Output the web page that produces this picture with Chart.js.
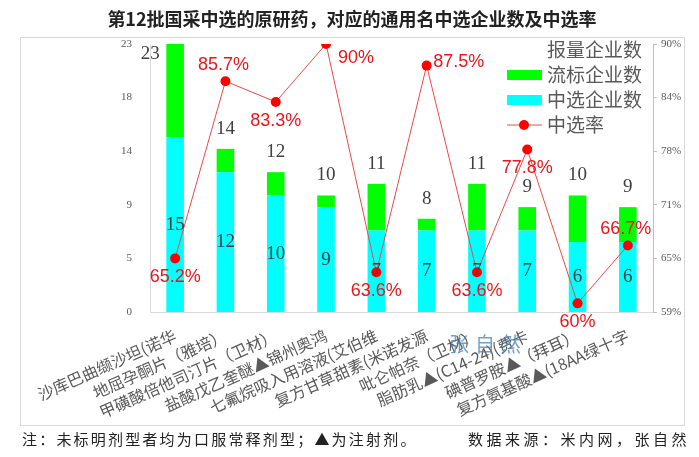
<!DOCTYPE html>
<html>
<head>
<meta charset="utf-8">
<script src="https://cdn.jsdelivr.net/npm/chart.js@4.4.0/dist/chart.umd.min.js"></script>
<style>
  body { margin: 0; background: #fff; }
  #wrap { position: relative; width: 699px; height: 457px; overflow: hidden; }
  #title { position: absolute; left: 0; top: 5px; width: 704px; text-align: center;
    font: bold 18px "Noto Sans CJK SC", sans-serif; color: #222; }
  .note { position: absolute; top: 428px; font: 15px "Noto Sans CJK SC", sans-serif; color: #222; letter-spacing: 2.2px; }
  #mark { position: absolute; left: 449px; top: 329px; font: 20px "Noto Sans CJK SC", sans-serif;
    color: rgba(70, 130, 180, 0.75); letter-spacing: 6px; }
</style>
</head>
<body>
<div id="wrap">
  <canvas id="myChart" width="699" height="457"></canvas>
  <div id="title">第12批国采中选的原研药，对应的通用名中选企业数及中选率</div>
  <div class="note" style="left:22px">注：未标明剂型者均为口服常释剂型；▲为注射剂。</div>
  <div class="note" style="left:468px; letter-spacing:3.5px">数据来源：米内网，张自然</div>
  <div id="mark">张自然</div>
</div>
<script>
const drugs = ['沙库巴曲缬沙坦(诺华', '地屈孕酮片（雅培）', '甲磺酸倍他司汀片（卫材）', '盐酸戊乙奎醚▲锦州奥鸿',
  '七氟烷吸入用溶液(艾伯维', '复方甘草甜素(米诺发源', '吡仑帕奈（卫材）', '脂肪乳▲(C14-24)(费卡',
  '碘普罗胺▲（拜耳）', '复方氨基酸▲(18AA绿十字'];
const totals = [23, 14, 12, 10, 11, 8, 11, 9, 10, 9];      // 报量企业数
const selected = [15, 12, 10, 9, 7, 7, 7, 7, 6, 6];        // 中选企业数
const failed = [8, 2, 2, 1, 4, 1, 4, 2, 4, 3];             // 流标企业数
const rates = [65.2, 85.7, 83.3, 90, 63.6, 87.5, 63.6, 77.8, 60, 66.7]; // 中选率 %
const leftTicks = ['0', '5', '9', '14', '18', '23'];
const rightTicks = ['59%', '65%', '71%', '78%', '84%', '90%'];

// where each rate label sits relative to its point
const ratePos = ['below', 'above', 'below', 'belowRight', 'below', 'right', 'below', 'below', 'below', 'above'];
const posOffset = { below: [0, 19], above: [-2, -16], right: [32, -4], belowRight: [30, 14] };

const ctx = document.getElementById('myChart');

const boxPlugin = {
  id: 'box',
  beforeDraw(chart) {
    const c = chart.ctx;
    c.save();
    c.strokeStyle = '#d9d9d9';
    c.lineWidth = 1;
    c.strokeRect(20.5, 37.5, 664, 388);
    c.restore();
  }
};

const labelPlugin = {
  id: 'labels',
  afterDatasetsDraw(chart) {
    const c = chart.ctx;
    const area = chart.chartArea;
    c.save();
    c.textAlign = 'center';
    c.textBaseline = 'middle';
    c.font = '19px "Liberation Serif"';
    c.fillStyle = '#404040';
    chart.getDatasetMeta(1).data.forEach((el, i) => {
      c.fillText(selected[i], el.x, (el.y + el.base) / 2);
    });
    chart.getDatasetMeta(3).data.forEach((pt, i) => {
      let x = pt.x, y = pt.y - 20;
      if (y - 9 < area.top) { x -= 25; y = area.top + 10; }
      c.fillText(totals[i], x, y);
    });
    c.font = '18px "Liberation Sans"';
    c.fillStyle = '#e8161b';
    chart.getDatasetMeta(0).data.forEach((pt, i) => {
      const o = posOffset[ratePos[i]];
      c.fillText(rates[i] + '%', pt.x + o[0], pt.y + o[1]);
    });

    // legend, top right inside the plot
    const ds = chart.data.datasets;
    const lx = area.right - 146, tx = area.right - 106;
    c.textAlign = 'left';
    c.font = '19px "Noto Sans CJK SC"';
    [3, 2, 1, 0].forEach((d, k) => {
      const y = area.top + 6 + k * 25;
      const item = ds[d];
      if (item.type === 'bar') {
        c.fillStyle = item.backgroundColor;
        c.fillRect(lx, y - 5, 35, 10);
      } else if (item.showLine !== false) {
        c.strokeStyle = item.borderColor;
        c.lineWidth = 1;
        c.beginPath(); c.moveTo(lx, y); c.lineTo(lx + 35, y); c.stroke();
        c.fillStyle = item.pointBackgroundColor;
        c.beginPath(); c.arc(lx + 17, y, 5, 0, Math.PI * 2); c.fill();
      }
      c.fillStyle = '#595959';
      c.fillText(item.label, tx, y);
    });
    c.restore();
  }
};

new Chart(ctx, {
  data: {
    labels: drugs,
    datasets: [{
      type: 'line',
      label: '中选率',
      data: rates,
      yAxisID: 'y1',
      borderColor: '#e84a4a',
      borderWidth: 1,
      pointRadius: 5,
      pointBackgroundColor: '#ff0000',
      pointBorderWidth: 0,
      order: 0
    },
    {
      type: 'bar',
      label: '中选企业数',
      data: selected,
      yAxisID: 'y',
      stack: 'bars',
      backgroundColor: '#00ffff',
      order: 2
    },
    {
      type: 'bar',
      label: '流标企业数',
      data: failed,
      yAxisID: 'y',
      stack: 'bars',
      backgroundColor: '#00ff00',
      order: 2
    },
    {
      type: 'line',
      label: '报量企业数',
      data: totals,
      yAxisID: 'y',
      stack: 'totals',
      showLine: false,
      pointRadius: 0,
      order: 1
    }]
  },
  options: {
    responsive: false,
    animation: false,
    events: [],
    layout: { padding: { left: 100, right: 0, top: 44, bottom: 0 } },
    datasets: { bar: { categoryPercentage: 1, barPercentage: 0.35 } },
    plugins: { legend: { display: false }, tooltip: { enabled: false } },
    scales: {
      x: {
        stacked: true,
        grid: { display: false },
        border: { color: '#d9d9d9' },
        afterFit: s => { s.height = 145; },
        ticks: {
          autoSkip: false,
          minRotation: 24,
          maxRotation: 24,
          padding: 6,
          color: '#595959',
          font: { family: '"Noto Sans CJK SC"', size: 16 }
        }
      },
      y: {
        stacked: true,
        min: 0,
        max: 23,
        grid: { display: false, drawTicks: false },
        border: { color: '#d9d9d9' },
        afterFit: s => { s.width = 50; },
        afterBuildTicks: s => { s.ticks = leftTicks.map((t, i) => ({ value: i * 23 / 5 })); },
        ticks: {
          padding: 18,
          color: '#595959',
          font: { family: '"Liberation Serif"', size: 11 },
          callback: (v, i) => leftTicks[i]
        }
      },
      y1: {
        position: 'right',
        stacked: false,
        min: 59,
        max: 90,
        grid: { drawOnChartArea: false, tickLength: 4, color: '#bfbfbf' },
        border: { color: '#bfbfbf' },
        afterFit: s => { s.width = 46; },
        afterBuildTicks: s => { s.ticks = rightTicks.map((t, i) => ({ value: 59 + i * 31 / 5 })); },
        ticks: {
          padding: 4,
          color: '#595959',
          font: { family: '"Liberation Sans Narrow"', size: 11 },
          callback: (v, i) => rightTicks[i]
        }
      }
    }
  },
  plugins: [boxPlugin, labelPlugin]
});
</script>
</body>
</html>
